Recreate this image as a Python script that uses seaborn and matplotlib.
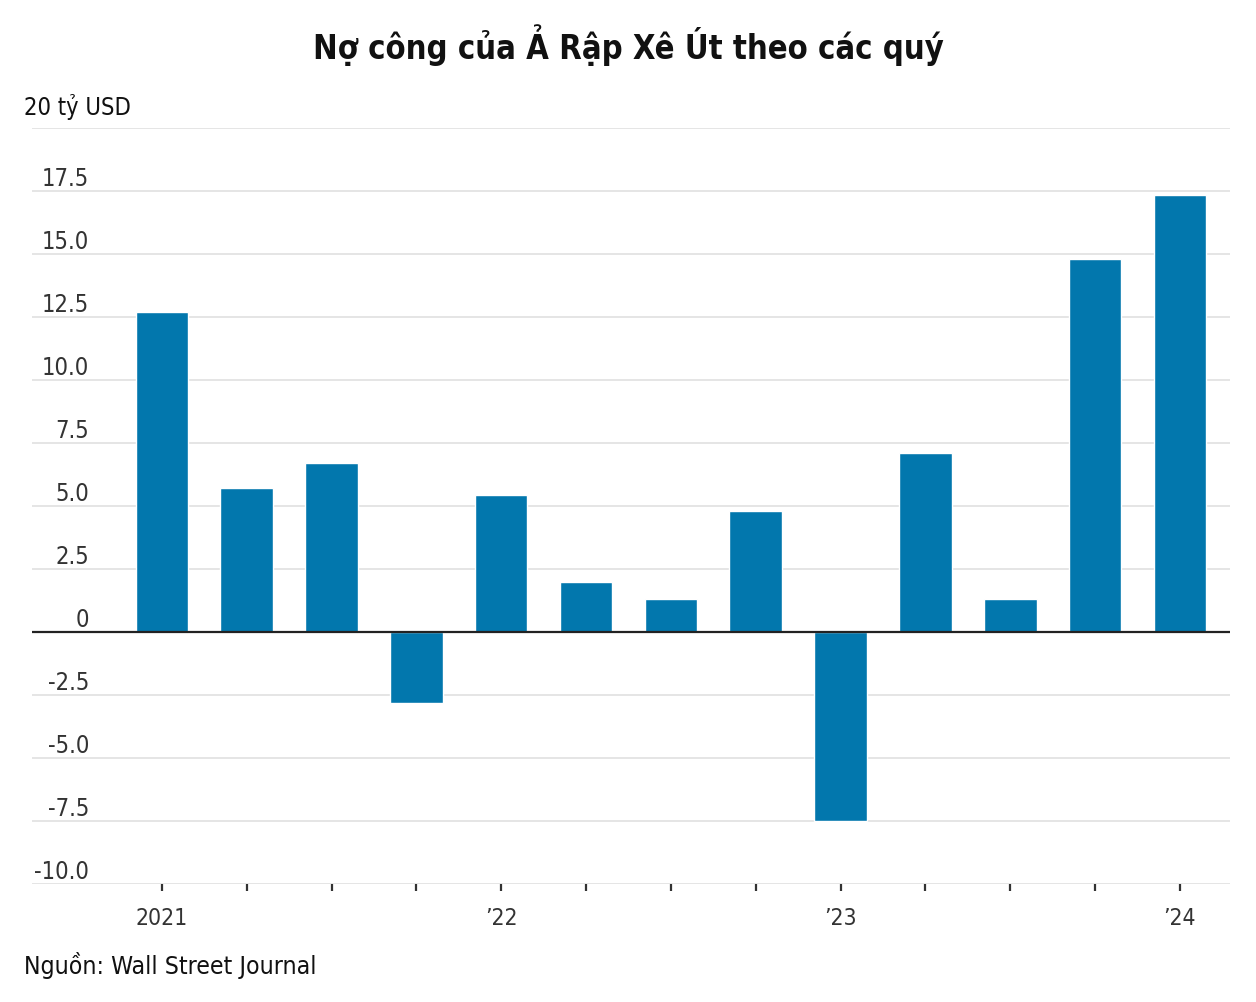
import matplotlib
matplotlib.use("Agg")
import matplotlib.pyplot as plt
import matplotlib.transforms as mtransforms
import seaborn as sns
import pandas as pd

# Data
quarters = ["Q1 2021", "Q2 2021", "Q3 2021", "Q4 2021",
            "Q1 2022", "Q2 2022", "Q3 2022", "Q4 2022",
            "Q1 2023", "Q2 2023", "Q3 2023", "Q4 2023",
            "Q1 2024"]
debt = [12.7, 5.7, 6.7, -2.8, 5.45, 2.0, 1.3, 4.8, -7.5, 7.1, 1.3, 14.8, 17.35]
tick_labels = ["2021", "", "", "", "\u201922", "", "", "", "\u201923", "", "", "", "\u201924"]
y_ticks = [-10.0, -7.5, -5.0, -2.5, 0, 2.5, 5.0, 7.5, 10.0, 12.5, 15.0, 17.5, 20.0]
y_tick_labels = ["-10.0", "-7.5", "-5.0", "-2.5", "0", "2.5", "5.0", "7.5", "10.0", "12.5", "15.0", "17.5", "20 tỷ USD"]
title = "Nợ công của Ả Rập Xê Út theo các quý"
source = "Nguồn: Wall Street Journal"

sns.set_theme(style="white")
plt.rcParams['font.family'] = ['DejaVu Sans']
plt.rcParams['font.stretch'] = 'condensed'

df = pd.DataFrame({"q": quarters, "v": debt})

fig = plt.figure(figsize=(12.56, 10.03), dpi=100)
ax = fig.add_axes([32/1256, 1-885/1003, (1230-32)/1256, (885-129)/1003])

sns.barplot(data=df, x="q", y="v", order=quarters, color="#0277AD",
            saturation=1, width=0.62, ax=ax, zorder=3)

ax.set_ylim(-10, 20)
ax.set_xlim(-1.53, 12.59)
ax.set_xlabel("")
ax.set_ylabel("")

for s in ax.spines.values():
    s.set_visible(False)

# gridlines
for yv in y_ticks:
    if yv == 0:
        ax.axhline(0, color="#222222", lw=1.6, zorder=4)
    else:
        ax.axhline(yv, color="#e3e3e3", lw=1.3, zorder=1)

ax.set_yticks([])
ax.set_xticks(range(len(quarters)))
ax.set_xticklabels(tick_labels, fontsize=16.5, color="#333333", fontstretch="condensed")
ax.tick_params(axis="x", length=5, width=1.6, color="#333333", pad=11, bottom=True)

# y labels above gridlines
trans = mtransforms.blended_transform_factory(fig.transFigure, ax.transData)
for yv, lab in zip(y_ticks, y_tick_labels):
    if yv == 20.0:
        ax.text(24/1256, yv + 0.55, lab, transform=trans, ha="left", va="baseline",
                fontsize=17, color="#111111", fontstretch="condensed")
    else:
        ax.text(89/1256, yv + 0.25, lab, transform=trans, ha="right", va="baseline",
                fontsize=17, color="#333333", fontstretch="condensed")

fig.text(0.5, 1-45/1003, title, ha="center", va="center", fontsize=23.5,
         fontweight="bold", color="#111111", fontstretch="condensed")
fig.text(24/1256, 1-966/1003, source, ha="left", va="center", fontsize=17.8,
         color="#111111", fontstretch="condensed")

fig.savefig("out.png", dpi=100, facecolor="white")
